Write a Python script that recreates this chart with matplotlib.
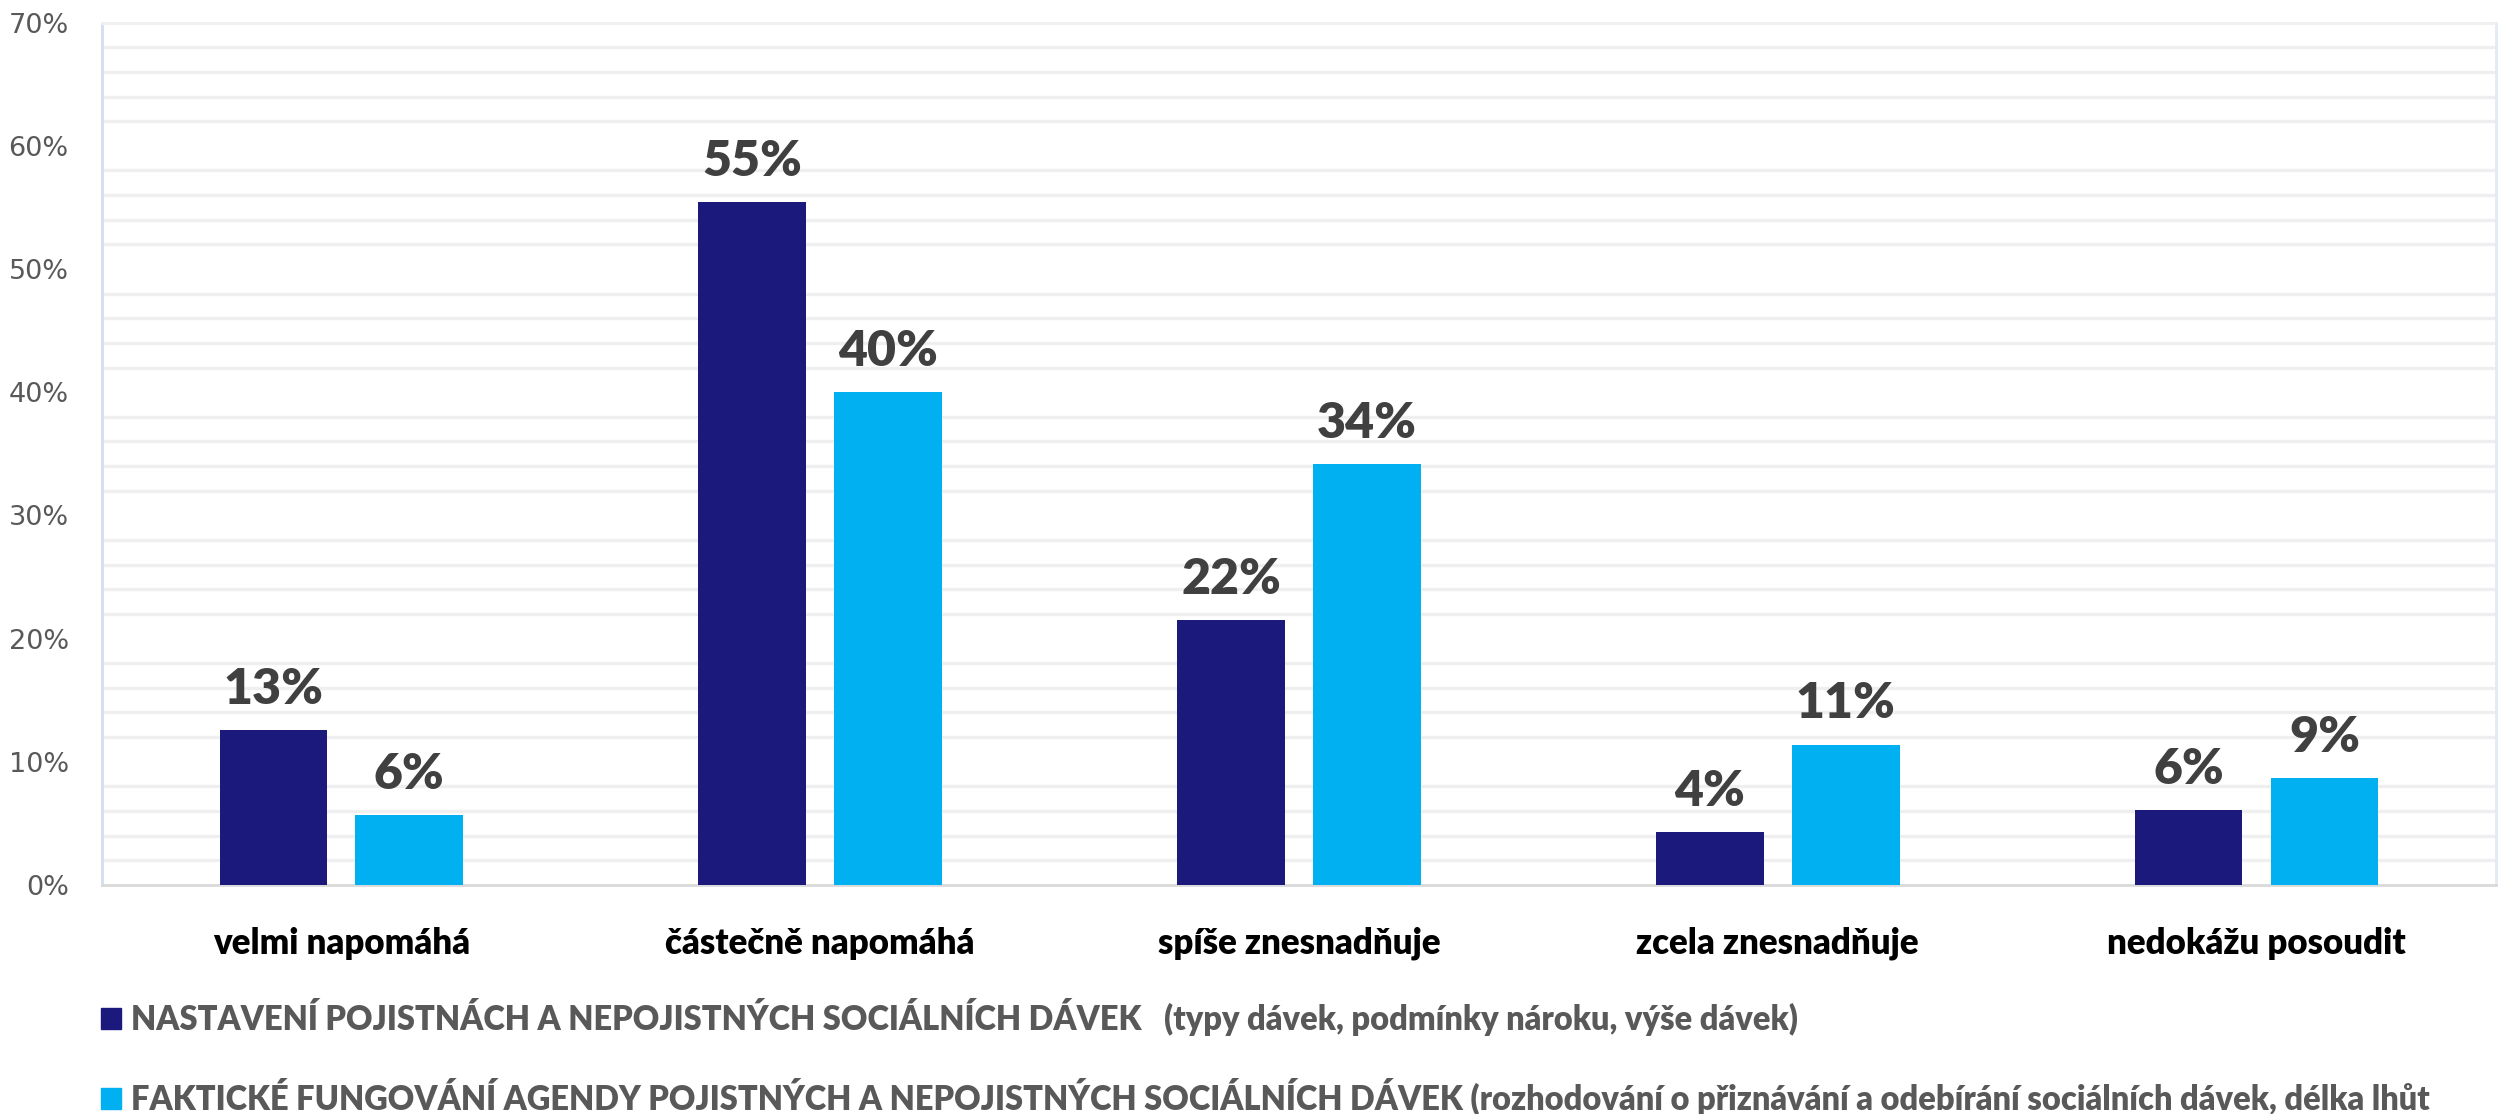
import numpy as np
import matplotlib
matplotlib.use("Agg")
import matplotlib.pyplot as plt
from matplotlib.patches import Patch

categories = ["velmi napomáhá", "částečně napomáhá", "spíše znesnadňuje",
              "zcela znesnadňuje", "nedokážu posoudit"]
nastaveni = [12.6, 55.4, 21.5, 4.3, 6.1]
fungovani = [5.7, 40.0, 34.2, 11.4, 8.7]
legend_labels = [
    "NASTAVENÍ POJISTNÁCH A NEPOJISTNÝCH SOCIÁLNÍCH DÁVEK   (typy dávek, podmínky nároku, výše dávek)",
    "FAKTICKÉ FUNGOVÁNÍ AGENDY POJISTNÝCH A NEPOJISTNÝCH SOCIÁLNÍCH DÁVEK (rozhodování o přiznávání a odebírání sociálních dávek, délka lhůt",
]
yticks = [0, 10, 20, 30, 40, 50, 60, 70]

DARK = "#1B1A7C"
LIGHT = "#00B0F0"
FONT = ["Lato", "DejaVu Sans"]

fig = plt.figure(figsize=(24.99, 11.14), dpi=100)
ax = fig.add_axes([0.0408, 0.2056, 0.9580, 0.7741])

x = np.arange(len(categories))
w = 0.225
off = 0.142
b1 = ax.bar(x - off, nastaveni, w, color=DARK, zorder=3)
b2 = ax.bar(x + off, fungovani, w, color=LIGHT, zorder=3)

for bars, vals in [(b1, nastaveni), (b2, fungovani)]:
    for r, v in zip(bars, vals):
        ax.annotate(f"{v:.0f}%", (r.get_x() + r.get_width() / 2, v),
                    xytext=(0, 13), textcoords="offset points",
                    ha="center", va="bottom", fontsize=36,
                    fontweight="heavy", color="#404040", family=FONT)

# light gridlines every 2 %, none on the labelled 10 % steps
for g in np.arange(2, 70, 2):
    if g % 10 != 0:
        ax.axhline(g, color="#EFEFEF", lw=2.4, zorder=1)

ax.set_xlim(-0.5, len(categories) - 0.5)
ax.set_ylim(0, 70)
ax.set_yticks(yticks)
ax.set_yticklabels([f"{t}%" for t in yticks], fontsize=19.5, color="#595959")
ax.tick_params(axis="y", length=0, pad=24)
ax.set_xticks(x)
ax.set_xticklabels(categories, fontsize=25, fontweight="heavy", color="black",
                   family=FONT)
ax.tick_params(axis="x", length=0, pad=30)

ax.spines["left"].set_color("#D3DEF2")
ax.spines["right"].set_color("#E3EAF6")
ax.spines["top"].set_color("#F0F0F0")
ax.spines["bottom"].set_color("#D9D9D9")
for s in ax.spines.values():
    s.set_linewidth(2)

handles = [Patch(color=DARK), Patch(color=LIGHT)]
leg = fig.legend(handles, legend_labels, loc="upper left",
                 bbox_to_anchor=(0.0405, 0.1045), frameon=False,
                 prop={"family": FONT, "weight": "heavy", "size": 23.5},
                 handlelength=0.62, handleheight=0.62, handletextpad=0.3,
                 labelspacing=1.3, borderaxespad=0, borderpad=0)
for t in leg.get_texts():
    t.set_color("#595959")

fig.savefig("out.png", dpi=100)
